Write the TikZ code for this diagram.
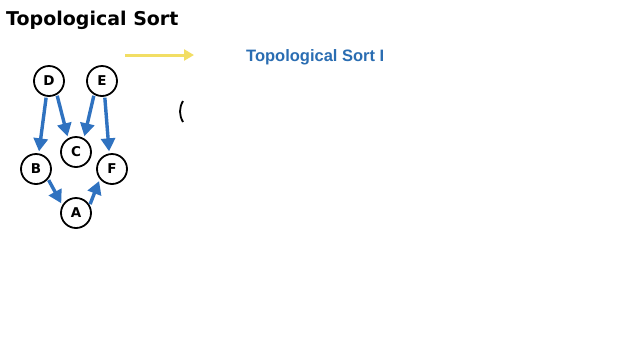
\documentclass[tikz,border=0pt]{standalone}
\usepackage{fontspec}
\setmainfont{Liberation Sans}
\newfontfamily\titlefont{DejaVu Sans}
\usetikzlibrary{arrows.meta}
\definecolor{edgeblue}{HTML}{2F72C0}
\definecolor{labelblue}{HTML}{2A6DB2}
\definecolor{pointer}{HTML}{F2DE64}
\begin{document}
\begin{tikzpicture}[x=1pt,y=-1pt,
  vertex/.style={circle,draw=black,line width=1.8pt,minimum size=30pt,inner sep=0pt,
    font=\titlefont\bfseries\fontsize{13.5}{13.5}\selectfont},
  dep/.style={draw=edgeblue,line width=3.4pt,-{Triangle[length=13pt,width=14pt]},
    shorten <=1pt,shorten >=2pt}]
\useasboundingbox (0,0) rectangle (640,360);
\fill[white] (0,0) rectangle (640,360);

% heading
\node[anchor=base west,inner sep=0pt,font=\titlefont\bfseries\fontsize{19}{19}\selectfont]
  (title) at (6,25) {Topological Sort};

% graph
\node[vertex] (D) at (49,81) {D};
\node[vertex] (E) at (102,81) {E};
\node[vertex] (C) at (76,152) {C};
\node[vertex] (B) at (36,169) {B};
\node[vertex] (F) at (112,169) {F};
\node[vertex] (A) at (76,213) {A};

\draw[dep] (D.-100) -- (B.80);
\draw[dep] (D.-60) -- (C.120);
\draw[dep] (E.-120) -- (C.60);
\draw[dep] (E.-80) -- (F.100);
\draw[dep] (B.-40) -- (A.150);
\draw[dep] (A.30) -- (F.-140);

% pointer to the algorithm name
\coordinate (p0) at (125,55);
\coordinate (p1) at (194,55);
\draw[pointer,line width=3pt,-{Triangle[length=10pt,width=11pt]}] (p0) -- (p1);
\node[anchor=base west,inner sep=0pt,text=labelblue,font=\bfseries\fontsize{16.5}{16.5}\selectfont]
  (algo) at (246,61) {Topological Sort I};

% partial circle
\draw[black,line width=1.8pt] (183,101) .. controls (179,108) and (179,115) .. (183,122);
\end{tikzpicture}
\end{document}
